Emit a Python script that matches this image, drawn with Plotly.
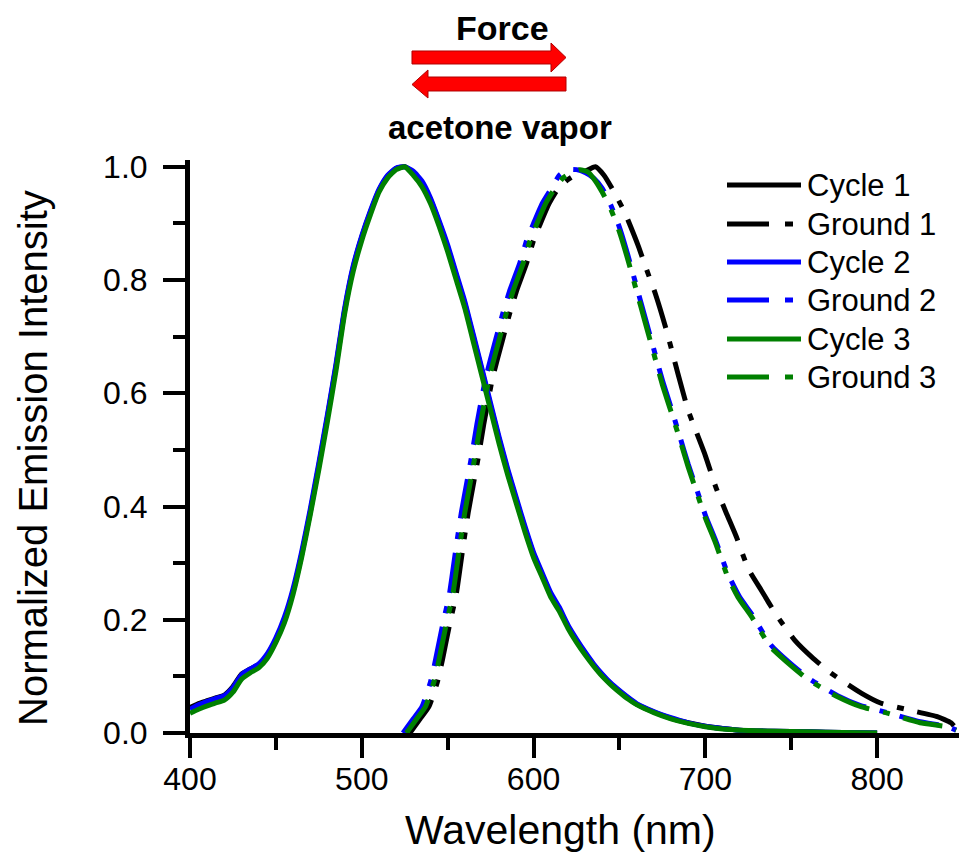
import plotly.graph_objects as go

# ---------------- data ----------------
cycle_wl = [400, 405, 410, 415, 420, 425, 430, 435, 440, 445, 450, 455, 460, 465, 470, 475, 480, 485, 490, 495,
            500, 505, 510, 515, 520, 525, 530, 535, 540, 545, 550, 555, 560, 565, 570, 575, 580, 585, 590, 595,
            600, 605, 610, 615, 620, 625, 630, 635, 640, 645, 650, 655, 660, 670, 680, 690, 700, 710, 720, 740,
            760, 780, 800]
cycle1 = [0.045, 0.052, 0.057, 0.062, 0.067, 0.082, 0.104, 0.113, 0.121, 0.138, 0.165, 0.2, 0.25, 0.315, 0.39,
          0.472, 0.558, 0.648, 0.746, 0.822, 0.876, 0.92, 0.958, 0.983, 0.997, 1.0, 0.99, 0.972, 0.942, 0.902,
          0.858, 0.808, 0.758, 0.699, 0.639, 0.578, 0.518, 0.462, 0.411, 0.361, 0.316, 0.28, 0.245, 0.219, 0.188,
          0.163, 0.141, 0.12, 0.102, 0.087, 0.074, 0.062, 0.051, 0.037, 0.026, 0.018, 0.012, 0.008, 0.005, 0.003,
          0.002, 0.001, 0.0]
cycle2 = [0.042, 0.05, 0.056, 0.061, 0.066, 0.08, 0.103, 0.113, 0.122, 0.14, 0.168, 0.205, 0.255, 0.32, 0.395,
          0.477, 0.562, 0.652, 0.75, 0.825, 0.878, 0.922, 0.96, 0.985, 0.998, 1.0, 0.992, 0.975, 0.945, 0.905,
          0.862, 0.812, 0.762, 0.703, 0.643, 0.582, 0.522, 0.466, 0.415, 0.365, 0.319, 0.283, 0.248, 0.222, 0.191,
          0.166, 0.143, 0.122, 0.104, 0.088, 0.075, 0.063, 0.052, 0.038, 0.027, 0.018, 0.012, 0.008, 0.005, 0.003,
          0.002, 0.001, 0.0]
cycle3 = [0.035, 0.042, 0.048, 0.053, 0.058, 0.072, 0.095, 0.106, 0.115, 0.132, 0.160, 0.195, 0.245, 0.31, 0.385,
          0.465, 0.55, 0.64, 0.74, 0.815, 0.87, 0.915, 0.955, 0.98, 0.995, 1.0, 0.985, 0.965, 0.935, 0.895,
          0.85, 0.80, 0.75, 0.69, 0.63, 0.57, 0.51, 0.455, 0.405, 0.355, 0.31, 0.275, 0.24, 0.215, 0.185,
          0.16, 0.138, 0.118, 0.10, 0.085, 0.072, 0.06, 0.05, 0.036, 0.025, 0.017, 0.011, 0.007, 0.005, 0.003,
          0.002, 0.001, 0.0]

ground1_wl = [528, 534, 539, 544, 547, 551, 555, 559, 562, 565, 568, 571, 576, 582, 586, 590, 596, 600, 604, 609,
              614, 619, 624, 630, 636, 641, 646, 653, 661, 665, 671, 677, 681, 684, 690, 700, 706, 712, 718, 725,
              733, 741, 752, 762, 773, 791, 802, 818, 835, 843, 846]
ground1 = [0.0, 0.025, 0.046, 0.09, 0.13, 0.19, 0.245, 0.33, 0.39, 0.44, 0.49, 0.545, 0.625, 0.695, 0.74, 0.78,
           0.83, 0.87, 0.90, 0.935, 0.96, 0.975, 0.985, 0.992, 1.0, 0.985, 0.96, 0.92, 0.86, 0.825, 0.775, 0.715,
           0.67, 0.635, 0.57, 0.49, 0.435, 0.39, 0.347, 0.29, 0.25, 0.21, 0.164, 0.134, 0.106, 0.07, 0.053, 0.041,
           0.029, 0.018, 0.008]
ground2_wl = [524, 530, 535, 540, 543, 547, 551, 555, 558, 561, 564, 567, 572, 578, 582, 586, 592, 596, 600, 605,
              610, 615, 620, 625, 630, 635, 640, 645, 650, 655, 660, 665, 670, 675, 680, 685, 690, 695, 700, 706,
              713, 720, 727, 738, 748, 760, 777, 790, 806, 825, 841, 846]
ground2 = [0.0, 0.025, 0.046, 0.09, 0.13, 0.19, 0.245, 0.33, 0.39, 0.44, 0.49, 0.545, 0.625, 0.695, 0.74, 0.78,
           0.83, 0.87, 0.90, 0.935, 0.96, 0.985, 0.995, 0.995, 0.99, 0.98, 0.962, 0.932, 0.893, 0.843, 0.788,
           0.733, 0.678, 0.623, 0.575, 0.525, 0.475, 0.43, 0.385, 0.34, 0.282, 0.24, 0.21, 0.156, 0.127, 0.097,
           0.066, 0.049, 0.036, 0.02, 0.011, 0.005]
ground3_wl = [526, 532, 537, 542, 545, 549, 553, 557, 560, 563, 566, 569, 574, 580, 584, 588, 594, 598, 602, 607,
              612, 617, 622, 627, 632, 636, 640, 645, 650, 655, 660, 665, 670, 675, 680, 685, 690, 695, 700, 706,
              713, 719, 727, 738, 748, 760, 777, 791, 806, 825, 841, 846]
ground3 = [0.0, 0.025, 0.046, 0.09, 0.13, 0.19, 0.245, 0.33, 0.39, 0.44, 0.49, 0.545, 0.625, 0.695, 0.74, 0.78,
           0.83, 0.87, 0.90, 0.935, 0.96, 0.98, 0.99, 0.995, 0.99, 0.975, 0.955, 0.925, 0.885, 0.835, 0.78,
           0.725, 0.67, 0.615, 0.568, 0.52, 0.47, 0.425, 0.38, 0.335, 0.276, 0.24, 0.205, 0.152, 0.124, 0.094,
           0.064, 0.046, 0.035, 0.018, 0.011, 0.005]

series_names = ["Cycle 1", "Ground 1", "Cycle 2", "Ground 2", "Cycle 3", "Ground 3"]
series_colors = ["#000000", "#000000", "#0000FF", "#0000FF", "#008000", "#008000"]
x_ticks = [400, 500, 600, 700, 800]
y_ticks = [0.0, 0.2, 0.4, 0.6, 0.8, 1.0]

# ---------------- layout helpers ----------------
OFF = 8                       # page body margin
W, H = 967 - OFF, 859 - OFF
PLOT_L, PLOT_R, PLOT_T, PLOT_B = 190, 963, 160, 733   # in page pixels
L, T = PLOT_L - OFF, PLOT_T - OFF
R, B = W - (PLOT_R - OFF), H - (PLOT_B - OFF)
PW, PH = W - L - R, H - T - B
FONT = "Liberation Sans, Arial, sans-serif"
DASHDOT = "40px,14px,7px,14px"


def px(x):
    return (x - PLOT_L) / PW


def py(y):
    return (PLOT_B - y) / PH


series = [
    (cycle_wl, cycle1, "solid"),
    (ground1_wl, ground1, DASHDOT),
    (cycle_wl, cycle2, "solid"),
    (ground2_wl, ground2, DASHDOT),
    (cycle_wl, cycle3, "solid"),
    (ground3_wl, ground3, DASHDOT),
]

fig = go.Figure()
for (xs, ys, dash), name, color in zip(series, series_names, series_colors):
    fig.add_trace(go.Scatter(x=xs, y=ys, mode="lines", name=name, showlegend=False,
                             line=dict(color=color, width=5, dash=dash, shape="spline", smoothing=0.5)))

shapes = []
annotations = []

# custom legend
leg_y = [185, 224, 262, 300, 339, 377]
for i, (name, color) in enumerate(zip(series_names, series_colors)):
    dash = "solid" if name.startswith("Cycle") else "42px,16px,8px,20px"
    shapes.append(dict(type="line", xref="paper", yref="paper", x0=px(727), x1=px(801),
                       y0=py(leg_y[i]), y1=py(leg_y[i]), line=dict(color=color, width=5, dash=dash)))
    annotations.append(dict(xref="paper", yref="paper", x=px(805), y=py(leg_y[i]), text=name,
                            showarrow=False, xanchor="left", yanchor="middle",
                            font=dict(family=FONT, size=31, color="black")))

# red arrows (top)
right_arrow = [(412, 51), (551, 51), (551, 43), (566, 57.5), (551, 72), (551, 64), (412, 64)]
left_arrow = [(566, 77), (428, 77), (428, 70), (412, 84.5), (428, 98), (428, 91), (566, 91)]
for poly in (right_arrow, left_arrow):
    path = "M " + " L ".join(f"{px(a):.5f},{py(b):.5f}" for a, b in poly) + " Z"
    shapes.append(dict(type="path", xref="paper", yref="paper", path=path,
                       fillcolor="#FF0000", line=dict(color="#B00000", width=1)))

annotations.append(dict(xref="paper", yref="paper", x=px(502), y=py(28), text="<b>Force</b>",
                        showarrow=False, xanchor="center", yanchor="middle",
                        font=dict(family=FONT, size=34, color="black")))
annotations.append(dict(xref="paper", yref="paper", x=px(500), y=py(127), text="<b>acetone vapor</b>",
                        showarrow=False, xanchor="center", yanchor="middle",
                        font=dict(family=FONT, size=33, color="black")))

# axis titles
annotations.append(dict(xref="paper", yref="paper", x=px(560), y=py(830), text="Wavelength (nm)",
                        showarrow=False, xanchor="center", yanchor="middle",
                        font=dict(family=FONT, size=41, color="black")))
annotations.append(dict(xref="paper", yref="paper", x=px(33), y=py(458), text="Normalized Emission Intensity",
                        showarrow=False, xanchor="center", yanchor="middle", textangle=-90,
                        font=dict(family=FONT, size=40, color="black")))

axis_common = dict(showline=True, linecolor="black", linewidth=5, showgrid=False, zeroline=False,
                   ticks="outside", tickwidth=4, tickcolor="black",
                   tickfont=dict(family=FONT, size=32, color="black"), mirror=False)

fig.update_layout(
    width=W, height=H,
    margin=dict(l=L, r=R, t=T, b=B),
    paper_bgcolor="white", plot_bgcolor="white",
    shapes=shapes, annotations=annotations,
    xaxis=dict(range=[400, 850], tickvals=x_ticks, ticktext=[str(v) for v in x_ticks],
               ticklen=20, ticklabelstandoff=-6,
               minor=dict(dtick=50, tick0=400, ticks="outside", ticklen=12, tickwidth=4, tickcolor="black"),
               **axis_common),
    yaxis=dict(range=[0, 1.012], tickvals=y_ticks, ticktext=[f"{v:.1f}" for v in y_ticks],
               ticklen=22, ticklabelstandoff=9,
               minor=dict(dtick=0.1, tick0=0, ticks="outside", ticklen=12, tickwidth=4, tickcolor="black"),
               **axis_common),
)

fig.write_html("out.html")
